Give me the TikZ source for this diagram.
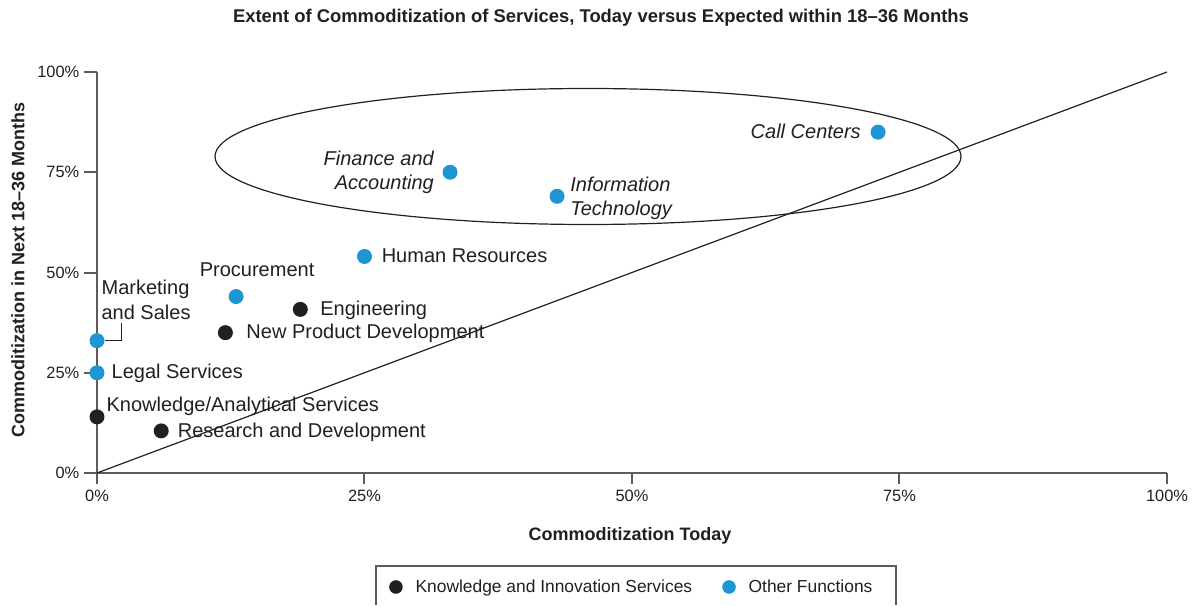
\documentclass[tikz,border=0pt]{standalone}
\usepackage{fontspec}
\setmainfont{Liberation Sans}
\usetikzlibrary{positioning,calc}

\definecolor{dotblue}{HTML}{1E96D4}
\definecolor{dotblack}{HTML}{231F20}
\definecolor{axisgray}{HTML}{5C5C5C}

\tikzset{
  kdot/.style={circle,fill=dotblack,inner sep=0pt,minimum size=7.5pt},
  odot/.style={circle,fill=dotblue,inner sep=0pt,minimum size=7.5pt},
  lbl/.style={inner sep=0pt,text=dotblack,font=\fontsize{10}{12.2}\selectfont},
  ilbl/.style={lbl,font=\fontsize{10}{12.4}\selectfont\itshape},
  slbl/.style={lbl,text height=7.2pt,text depth=1pt},
  ticklbl/.style={inner sep=0pt,text=dotblack,font=\fontsize{8.2}{10}\selectfont},
  leglbl/.style={ticklbl,text height=6.2pt,text depth=0.6pt,font=\fontsize{8.7}{10}\selectfont},
  axlbl/.style={inner sep=0pt,text=dotblack,font=\fontsize{9}{11}\selectfont\bfseries},
}

\begin{document}
\begin{tikzpicture}[
  x=5.35pt,y=2.005pt,
  line width=0.6pt,
]
\useasboundingbox (-9.065,-32.92) rectangle (103.18,117.96);

% axes
\draw [axisgray,line width=1pt] (0,100) -- (0,0) -- (100,0);
\foreach \x in {0,25,50,75,100} {
  \draw [axisgray,line width=1pt] (\x,0) -- (\x,-2.74);
  \node[ticklbl,anchor=north] (tx\x) at (\x,-4.2) {\x\%};
}
\foreach \y in {0,25,50,75,100} {
  \draw [axisgray,line width=1pt] (-1.21,\y) -- (0,\y);
  \node[ticklbl,anchor=east] (ty\y) at (-1.6,\y) {\y\%};
}
\node[axlbl,font=\fontsize{9.2}{11}\selectfont\bfseries] (title) at (47.1,113.47) {Extent of Commoditization of Services, Today versus Expected within 18--36 Months};
\node[axlbl] (xlbl) at (49.81,-15.71) {Commoditization Today};
\node[axlbl,rotate=90] (ylbl) at (-7.38,50.62) {Commoditization in Next 18--36 Months};

% diagonal and ellipse
\draw [dotblack] (0,0) -- (100,100);
\draw [dotblack] (45.89,78.93) ellipse [x radius=186.5pt, y radius=34pt];

% points
\node[odot] (cc) at (73,85) {};
\node[odot] (fa) at (33,75) {};
\node[odot] (it) at (43,69) {};
\node[odot] (hr) at (25,54) {};
\node[odot] (pr) at (13,44) {};
\node[kdot] (en) at (19,40.8) {};
\node[kdot] (np) at (12,35) {};
\node[odot] (ms) at (0,33) {};
\node[odot] (ls) at (0,25) {};
\node[kdot] (ka) at (0,14) {};
\node[kdot] (rd) at (6,10.5) {};

% labels
\node[slbl,font=\fontsize{10}{12}\selectfont\itshape,left=4.3pt of cc] (tcc) {Call Centers};
\node[ilbl,align=right,left=3.8pt of fa] (tfa) {Finance and\\Accounting};
\node[ilbl,align=left,right=2.3pt of it,yshift=-1pt] (tit) {Information\\Technology};
\node[slbl,right=4.3pt of hr] (thr) {Human Resources};
\node[slbl,above=4.5pt of pr,xshift=10.5pt] (tpr) {Procurement};
\node[slbl,right=5.7pt of en] (ten) {Engineering};
\node[slbl,right=6.2pt of np] (tnp) {New Product Development};
\node[lbl,align=left,anchor=south west] (tms) at ($(ms)+(2pt,10.3pt)$) {Marketing\\and Sales};
\coordinate (msk) at ($(ms)+(12.3pt,9pt)$);
\draw [dotblack] (ms.east) -| (msk);
\node[slbl,right=3pt of ls] (tls) {Legal Services};
\node[lbl,anchor=base west] (tka) at ($(ka)+(4.5pt,2.5pt)$) {Knowledge/Analytical Services};
\node[slbl,right=4pt of rd] (trd) {Research and Development};

% legend
\draw [axisgray,line width=0.8pt] (26.07,-32.92) -- (26.07,-23.19) -- (74.67,-23.19) -- (74.67,-32.92);
\node[kdot,minimum size=6.8pt] (lk) at (27.94,-28.43) {};
\node[leglbl,right=5.8pt of lk] (tlk) {Knowledge and Innovation Services};
\node[odot,minimum size=6.8pt] (lo) at (59.07,-28.43) {};
\node[leglbl,right=5.8pt of lo] (tlo) {Other Functions};
\end{tikzpicture}
\end{document}
